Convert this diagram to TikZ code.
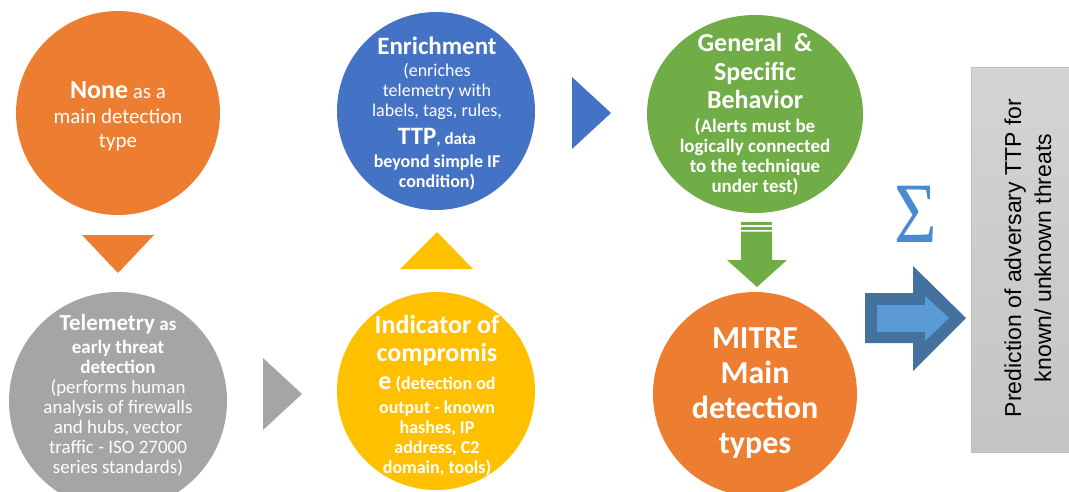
\documentclass[tikz,border=0pt]{standalone}
\usepackage{fontspec}
\setmainfont{Carlito}
\newfontfamily\arialf{Liberation Sans}
\newfontfamily\sigf{Liberation Serif}
\usetikzlibrary{shapes.geometric}
\definecolor{cOrange}{HTML}{ED7D31}
\definecolor{cGray}{HTML}{A5A5A5}
\definecolor{cBlue}{HTML}{4472C4}
\definecolor{cYellow}{HTML}{FFC000}
\definecolor{cGreen}{HTML}{70AD47}
\definecolor{cDarkArrow}{HTML}{44729E}
\definecolor{cLightArrow}{HTML}{5B9BD5}
\definecolor{cSigma}{HTML}{4A8AD0}
\definecolor{cBoxTop}{HTML}{D4D4D4}
\definecolor{cBoxBot}{HTML}{C4C4C4}
\definecolor{cBoxLine}{HTML}{BDBDBD}
\newcommand\fsz[2]{\fontsize{#1}{#2}\selectfont}
\begin{document}
\begin{tikzpicture}[x=1pt,y=-1pt,
  bubble/.style={circle, inner sep=0pt, minimum size=#1},
  txt/.style={text=white, align=center, inner sep=0pt}
]
\lineskiplimit=-100pt
\useasboundingbox (0,0) rectangle (1069,492);

% circles
\node[bubble=204pt, fill=cOrange] (none) at (118,113) {};
\node[bubble=218pt, fill=cGray] (tele) at (118,401) {};
\node[bubble=198pt, fill=cBlue] (enrich) at (436,111) {};
\node[bubble=198pt, fill=cYellow] (ioc) at (436,391) {};
\node[ellipse, inner sep=0pt, minimum width=216pt, minimum height=198pt, fill=cGreen] (gen) at (755,114) {};
\node[bubble=204pt, fill=cOrange] (mitre) at (755,394) {};

% texts
\node[txt, font={\fsz{21}{24.5}}] (noneT) at (118,116.5)
  {{\bfseries\fsz{26}{24.5}None} as a\\main detection\\type};
\node[txt, font={\fsz{19}{20}}] (teleT) at (118,395)
  {{\bfseries\fsz{23}{20}Telemetry} {\bfseries as}\\[3pt]
   {\bfseries early threat}\\{\bfseries detection}\\(performs human\\analysis of firewalls\\and hubs, vector\\traffic - ISO 27000\\series standards)};
\node[txt, font={\fsz{18}{20}}] (enrichT) at (437,114)
  {{\bfseries\fsz{25}{20}Enrichment}\\[2pt](enriches\\telemetry with\\labels, tags, rules,\\[8pt]
   {\bfseries\fsz{25}{20}TTP}{\bfseries\fsz{17}{20}, data}\\[3pt]{\bfseries beyond simple IF}\\{\bfseries condition)}};
\node[txt, font={\bfseries\fsz{18}{20}}] (iocT) at (437,395.5)
  {{\fsz{26}{20}Indicator of}\\[8pt]{\fsz{26}{20}compromis}\\[8pt]{\fsz{26}{20}e} (detection od\\[4pt]output - known\\hashes, IP\\address, C2\\domain, tools)};
\node[txt, font={\bfseries\fsz{19}{20}}] (genT) at (755,114.5)
  {{\fsz{26}{20}General\ \ \&}\\[9pt]{\fsz{26}{20}Specific}\\[8pt]{\fsz{26}{20}Behavior}\\[4pt](Alerts must be\\logically connected\\to the technique\\under test)};
\node[txt, font={\bfseries\fsz{32}{35}}] (mitreT) at (755,393)
  {MITRE\\Main\\detection\\types};

% triangles between steps
\fill[cOrange] (82,235) -- (154,235) -- (118,273) -- cycle;
\fill[cGray] (263,358) -- (263,430) -- (302,394) -- cycle;
\fill[cYellow] (400,269) -- (473,269) -- (437,232) -- cycle;
\fill[cBlue] (572,77) -- (572,149) -- (611,113) -- cycle;

% green striped down arrow
\fill[cGreen] (741,222) rectangle (772,225);
\fill[cGreen] (741,227) rectangle (772,229.5);
\fill[cGreen] (741,231.5) -- (772,231.5) -- (772,260) -- (787,260) -- (757,287) -- (727,260) -- (741,260) -- cycle;

% sigma
\node[text=cSigma, inner sep=0pt, xscale=0.85, font={\sigf\fsz{86}{86}}, anchor=base] (sig) at (915.5,243) {Σ};

% big blue arrow
\fill[cDarkArrow] (865,293) -- (913,293) -- (913,266) -- (966,318) -- (913,371) -- (913,343) -- (865,343) -- cycle;
\fill[cLightArrow] (877,305) -- (925,305) -- (925,296) -- (949,318) -- (925,341) -- (925,332) -- (877,332) -- cycle;

% result box
\node[rectangle, draw=cBoxLine, line width=0.8pt, top color=cBoxTop, bottom color=cBoxBot,
      minimum width=110pt, minimum height=385pt, anchor=north west, inner sep=0pt] (pred) at (971,67) {};
\node[rotate=90, align=center, inner sep=0pt, font={\arialf\fsz{23}{30}}] (predT) at (1028,258)
  {Prediction of adversary TTP for\\known/ unknown threats};
\end{tikzpicture}
\end{document}
